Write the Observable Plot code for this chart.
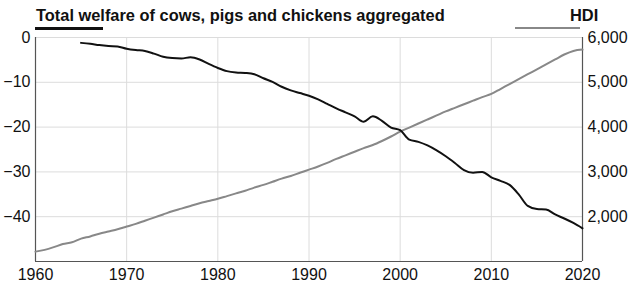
<!DOCTYPE html>
<html><head><meta charset="utf-8">
<script src="https://cdn.jsdelivr.net/npm/d3@7"></script>
<script src="https://cdn.jsdelivr.net/npm/@observablehq/plot@0.6"></script>
<style>
body{margin:0;background:#fff;font-family:"Liberation Sans",Arial,sans-serif;}
#wrap{position:relative;width:633px;height:286px;}
.t{position:absolute;font-weight:bold;font-size:16.4px;color:#111;white-space:nowrap;line-height:1;}
.sw{position:absolute;height:2.5px;}
</style></head><body><div id="wrap"></div>
<script>
const titleLeft = "Total welfare of cows, pigs and chickens aggregated";
const titleRight = "HDI";
const xTicks = [1960, 1970, 1980, 1990, 2000, 2010, 2020];
const leftTicks = [0, -10, -20, -30, -40];
const hdiTicks = [2000, 3000, 4000, 5000, 6000];

const welfareYears = [1965,1966,1967,1968,1969,1970,1971,1972,1973,1974,1975,1976,1977,1978,1979,1980,1981,1982,1983,1984,1985,1986,1987,1988,1989,1990,1991,1992,1993,1994,1995,1996,1997,1998,1999,2000,2001,2002,2003,2004,2005,2006,2007,2008,2009,2010,2011,2012,2013,2014,2015,2016,2017,2018,2019,2020];
const welfare = [-1.2,-1.4,-1.7,-1.9,-2.0,-2.5,-2.8,-3.0,-3.6,-4.3,-4.6,-4.7,-4.4,-4.9,-5.9,-6.8,-7.5,-7.8,-7.9,-8.2,-9.1,-9.9,-11.0,-11.8,-12.4,-13.0,-13.8,-14.8,-15.8,-16.7,-17.6,-18.8,-17.6,-18.6,-20.1,-20.7,-22.8,-23.3,-24.1,-25.2,-26.5,-28.0,-29.6,-30.2,-30.0,-31.2,-32.0,-32.9,-35.0,-37.6,-38.3,-38.4,-39.5,-40.4,-41.4,-42.6];

const hdiYears = [1960,1961,1962,1963,1964,1965,1966,1967,1968,1969,1970,1971,1972,1973,1974,1975,1976,1977,1978,1979,1980,1981,1982,1983,1984,1985,1986,1987,1988,1989,1990,1991,1992,1993,1994,1995,1996,1997,1998,1999,2000,2001,2002,2003,2004,2005,2006,2007,2008,2009,2010,2011,2012,2013,2014,2015,2016,2017,2018,2019,2020];
const hdi = [1220,1260,1320,1390,1430,1510,1560,1620,1670,1720,1780,1840,1910,1980,2050,2120,2180,2240,2300,2350,2400,2460,2520,2580,2650,2710,2780,2850,2910,2980,3050,3120,3200,3290,3370,3450,3530,3600,3690,3790,3900,3990,4080,4170,4260,4350,4430,4510,4590,4670,4740,4850,4960,5070,5180,5290,5400,5510,5620,5700,5730];

// the right axis (HDI) is aligned with the left: 6,000 ↔ 0 and 1,000 ↔ −50
const toLeft = v => (v - 6000) / 100;
const fromLeft = v => v * 100 + 6000;

const welfareRows = welfareYears.map((year, i) => ({year, value: welfare[i]}));
const hdiRows = hdiYears.map((year, i) => ({year, value: toLeft(hdi[i])}));

const chart = Plot.plot({
  width: 633, height: 286,
  marginTop: 37, marginBottom: 25, marginLeft: 35, marginRight: 51,
  style: {fontFamily: "Liberation Sans, Arial, sans-serif", fontSize: "16px", color: "#111", background: "#fff", overflow: "visible"},
  x: {domain: [1960, 2020]},
  y: {domain: [-50, 0]},
  marks: [
    Plot.gridX(xTicks, {stroke: "#dcdcdc", strokeOpacity: 1}),
    Plot.gridY(leftTicks, {stroke: "#dcdcdc", strokeOpacity: 1}),
    Plot.axisX(xTicks, {tickSize: 0, tickPadding: 7, label: null, tickFormat: d => String(d)}),
    Plot.axisY(leftTicks, {anchor: "left", tickSize: 0, tickPadding: 5, label: null}),
    Plot.axisY(hdiTicks.map(toLeft), {anchor: "right", tickSize: 0, tickPadding: 5, label: null, tickFormat: d => d3.format(",")(fromLeft(d))}),
    Plot.ruleX([1960, 2020], {stroke: "#555", strokeWidth: 1.2}),
    Plot.ruleY([-50], {stroke: "#555", strokeWidth: 1.2}),
    Plot.line(hdiRows, {x: "year", y: "value", stroke: "#888", strokeWidth: 2, curve: "monotone-x"}),
    Plot.line(welfareRows, {x: "year", y: "value", stroke: "#111", strokeWidth: 2, curve: "monotone-x"})
  ]
});
const wrap = document.getElementById("wrap");
wrap.appendChild(chart);

function addText(txt, left, top) {
  const d = document.createElement("div");
  d.className = "t"; d.textContent = txt;
  d.style.left = left + "px"; d.style.top = top + "px";
  wrap.appendChild(d);
}
function addSwatch(left, top, width, color) {
  const d = document.createElement("div");
  d.className = "sw";
  d.style.left = left + "px"; d.style.top = top + "px"; d.style.width = width + "px"; d.style.background = color;
  wrap.appendChild(d);
}
addText(titleLeft, 36, 7);
addText(titleRight, 570, 7);
addSwatch(35, 27, 68, "#111");
addSwatch(515, 26.5, 65, "#888");
</script></body></html>
